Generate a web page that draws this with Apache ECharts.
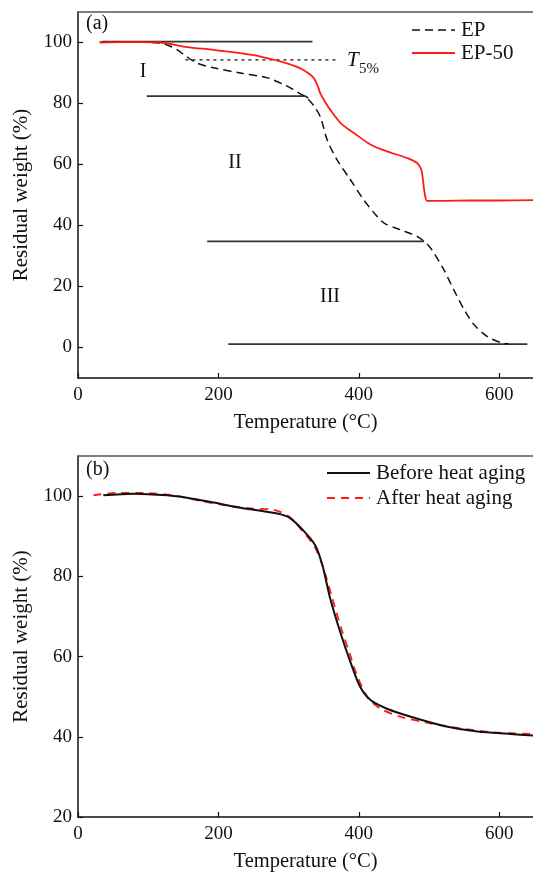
<!DOCTYPE html>
<html>
<head>
<meta charset="utf-8">
<script src="https://cdn.jsdelivr.net/npm/echarts@6/dist/echarts.min.js"></script>
<style>
html,body{margin:0;padding:0;background:#fff;}
#chart{width:533px;height:873px;}
</style>
</head>
<body>
<div id="chart"></div>
<script>
// ---------- Panel (a) data: [temperature °C, residual weight %] ----------
var epData = [[31,100.2],[60,100.2],[93,100.1],[115,99.8],[127,99.2],[140,97.8],[155,95.3],[170,93.2],[193,91.7],[231,90],[270,88.4],[295,86],[307,84.5],[318,83],[326,81.8],[335,79.5],[345,75.7],[355,68],[369,61.5],[388,55],[407,48.4],[424,43.5],[436,40.8],[459,38.6],[483,36.4],[493,34.8],[500,33.2],[507,31],[521,25.5],[535,19],[550,12.4],[564,7.5],[583,3.6],[602,1.6],[613,1.2]];
var ep50Data = [[31,100],[60,100.1],[90,100.1],[117,100],[135,99.4],[155,98.5],[193,97.6],[231,96.5],[260,95.4],[288,93.8],[310,92.2],[321,91],[330,89.6],[336,88.3],[341,86],[345,83.4],[352,80.5],[359,78],[374,73.6],[393,70.3],[417,66.5],[440,64.3],[469,62.1],[483,60.5],[488,58.8],[490,57.2],[492,53.5],[493,51.7],[495,49],[497,48.1],[520,48.1],[560,48.2],[600,48.2],[648,48.3]];
// stage boundary lines and T5% line
var stageLine1 = [[35,100.3],[334,100.3]];
var stageLine2 = [[98,82.4],[324,82.4],[328,81.8]];
var stageLine3 = [[184,34.8],[493,34.8]];
var stageLine4 = [[214,1.1],[640,1.1]];
var t5Line = [[153,94.3],[369,94.3]];
var stageLabels = ['I','II','III'];

// ---------- Panel (b) data ----------
var beforeData = [[36,100.2],[79,100.6],[127,100.2],[155,99.6],[193,98.4],[231,97.1],[269,96.1],[288,95.5],[302,94.5],[321,91.4],[338,87.7],[348,82.8],[359,74.6],[374,65.8],[388,58.6],[402,52.4],[417,49.1],[440,47],[474,45],[521,42.7],[569,41.3],[616,40.7],[648,40.3]];
var afterData = [[22,100.2],[55,100.8],[93,100.8],[136,100.2],[174,98.8],[212,97.7],[250,96.9],[279,96.6],[302,94.7],[321,91],[336,87.7],[348,82.8],[362,74.6],[376,66.4],[388,60.2],[393,57.3],[412,49.9],[431,47],[459,45],[497,43.5],[545,42.1],[592,41.1],[648,40.7]];

var yTicksA = [0,20,40,60,80,100];
var yTicksB = [20,40,60,80,100];
var legendA = ['EP','EP-50'];
var legendB = ['Before heat aging','After heat aging'];

var FONT = '"Liberation Serif", "DejaVu Serif", serif';
var TXT = '#111';
var RED = '#ff1a1a';

function xAxisCfg(gi) {
  return {
    type:'value', gridIndex:gi, min:0, max:648, interval:200,
    name:'Temperature (°C)', nameLocation:'middle', nameGap:34,
    nameTextStyle:{fontFamily:FONT, fontSize:20.5, color:TXT},
    axisLine:{onZero:false, lineStyle:{color:'#111', width:1.5}},
    axisTick:{inside:true, length:5, lineStyle:{color:'#111', width:1.2}},
    axisLabel:{fontFamily:FONT, fontSize:19, color:TXT, margin:8, showMaxLabel:false},
    splitLine:{show:false}
  };
}
function topAxisCfg(gi) {
  return {
    type:'value', gridIndex:gi, position:'top', min:0, max:648,
    axisLine:{show:true, onZero:false, lineStyle:{color:'#555', width:1.5}},
    axisTick:{show:false}, axisLabel:{show:false}, splitLine:{show:false}
  };
}
function yAxisCfg(gi, mn, mx, ticks, extra) {
  var o = {
    type:'value', gridIndex:gi, min:mn, max:mx,
    name:'Residual weight (%)', nameLocation:'middle', nameGap:46,
    nameTextStyle:{fontFamily:FONT, fontSize:21, color:TXT},
    axisLine:{show:true, onZero:false, lineStyle:{color:'#111', width:1.5}},
    axisTick:{inside:true, length:5, lineStyle:{color:'#111', width:1.2}},
    axisLabel:{fontFamily:FONT, fontSize:19, color:TXT, margin:6, showMinLabel:mn===ticks[0], showMaxLabel:false,
      formatter:function(v){return ticks.indexOf(v)>=0? String(v):'';}},
    splitLine:{show:false}
  };
  for (var k in extra) o[k] = extra[k];
  return o;
}
function refLine(data, color, type, width) {
  return {type:'line', xAxisIndex:0, yAxisIndex:0, data:data, symbol:'none', silent:true,
    lineStyle:{color:color, width:width, type:type}, z:1};
}
function curve(name, gi, data, color, width, type, z) {
  return {name:name, type:'line', xAxisIndex:gi, yAxisIndex:gi, data:data, symbol:'none', smooth:0.3,
    lineStyle:{color:color, width:width, type:type}, itemStyle:{color:color}, z:z};
}
function legendItem(x1, x2, y, color, width, dash, label) {
  return [
    {type:'line', shape:{x1:x1, y1:y, x2:x2, y2:y}, style:{stroke:color, lineWidth:width, lineDash:dash}},
    {type:'text', x:x2+6, y:y, style:{text:label, font:'21px '+FONT, fill:TXT, textAlign:'left', textVerticalAlign:'middle'}}
  ];
}

var graphics = [
  {type:'text', left:86, top:14, style:{text:'(a)', font:'20px '+FONT, fill:TXT}},
  {type:'text', left:86, top:460, style:{text:'(b)', font:'20px '+FONT, fill:TXT}},
  {type:'text', x:143, y:72, style:{text:stageLabels[0], font:'20px '+FONT, fill:TXT, textAlign:'center', textVerticalAlign:'middle'}},
  {type:'text', x:235, y:163, style:{text:stageLabels[1], font:'20px '+FONT, fill:TXT, textAlign:'center', textVerticalAlign:'middle'}},
  {type:'text', x:330, y:297, style:{text:stageLabels[2], font:'20px '+FONT, fill:TXT, textAlign:'center', textVerticalAlign:'middle'}},
  {type:'text', x:347, y:60, style:{text:'T', font:'italic 21px '+FONT, fill:TXT, textAlign:'left', textVerticalAlign:'middle'}},
  {type:'text', x:359, y:69, style:{text:'5%', font:'15px '+FONT, fill:TXT, textAlign:'left', textVerticalAlign:'middle'}}
]
.concat(legendItem(412, 455, 30, '#111', 1.5, [8,5], legendA[0]))
.concat(legendItem(412, 455, 53, RED, 1.8, null, legendA[1]))
.concat(legendItem(327, 370, 473, '#111', 2, null, legendB[0]))
.concat(legendItem(327, 370, 498, RED, 1.8, [8,6], legendB[1]));

var option = {
  backgroundColor:'#fff',
  animation:false,
  grid:[
    {left:78, right:0, top:12, bottom:495},
    {left:78, right:0, top:456, bottom:51}
  ],
  xAxis:[xAxisCfg(0), xAxisCfg(1), topAxisCfg(0), topAxisCfg(1)],
  yAxis:[
    yAxisCfg(0, -10, 110, yTicksA, {splitNumber:6}),
    yAxisCfg(1, 20, 110, yTicksB, {interval:20})
  ],
  series:[
    refLine(stageLine1, '#333', 'solid', 1.8),
    refLine(stageLine2, '#333', 'solid', 1.8),
    refLine(stageLine3, '#333', 'solid', 1.8),
    refLine(stageLine4, '#333', 'solid', 1.8),
    refLine(t5Line, '#111', [3,4], 1.4),
    curve(legendA[0], 0, epData, '#111', 1.5, [8,5], 3),
    curve(legendA[1], 0, ep50Data, RED, 1.8, 'solid', 3),
    curve(legendB[1], 1, afterData, RED, 1.8, [8,6], 3),
    curve(legendB[0], 1, beforeData, '#111', 2, 'solid', 4)
  ],
  graphic:graphics
};

var chart = echarts.init(document.getElementById('chart'), null, {renderer:'canvas'});
chart.setOption(option);
</script>
</body>
</html>
